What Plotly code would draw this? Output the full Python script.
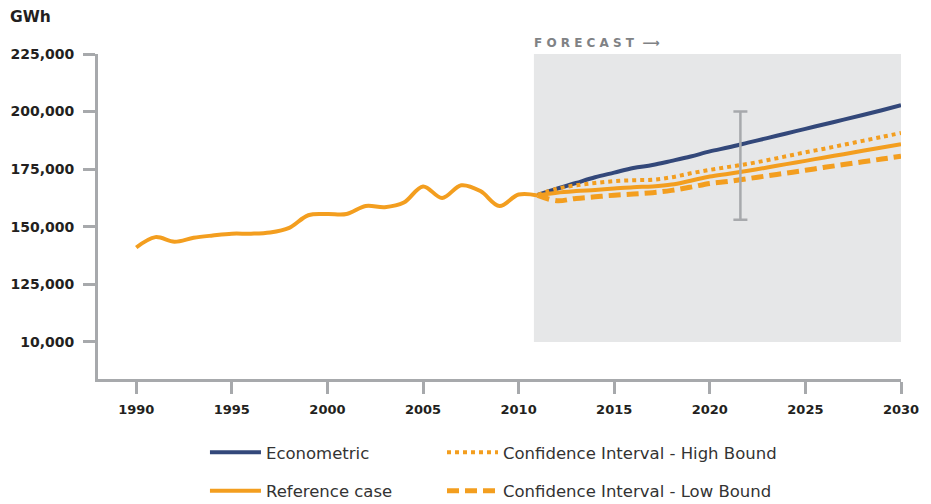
import plotly.graph_objects as go

# history (shared by both scenarios)
hist_years = list(range(1990, 2012))
hist_gwh = [141000, 145500, 143500, 145200, 146200, 147000, 147000, 147500, 149500, 155000,
            155500, 155500, 159000, 158500, 160500, 167500, 162500, 168000, 165500, 159000,
            164000, 163600]

# forecast
fc_years = list(range(2011, 2031))
econometric = [163800, 166500, 169000, 171500, 173500, 175500, 176800, 178600, 180500, 182700,
               184500, 186500, 188500, 190500, 192500, 194500, 196500, 198500, 200600, 202800]
reference = [163600, 164800, 165500, 166000, 166600, 167200, 167500, 168300, 170000, 171800,
             173000, 174300, 175700, 177200, 178600, 180100, 181500, 183000, 184400, 185800]
high_bound = [163800, 166500, 168000, 169000, 169800, 170200, 170400, 171500, 173200, 174700,
              176000, 177300, 178900, 180600, 182300, 183900, 185600, 187300, 189000, 190700]
low_bound = [163600, 161300, 162300, 163000, 163700, 164200, 164800, 165800, 167200, 168800,
             169700, 170900, 172100, 173300, 174500, 175800, 177000, 178200, 179400, 180600]

forecast_start = 2010.8
err_year = 2021.6
err_mid = 176500
err_half = 23500

y_ticks = [100000, 125000, 150000, 175000, 200000, 225000]
y_labels = ['10,000', '125,000', '150,000', '175,000', '200,000', '225,000']
x_ticks = list(range(1990, 2031, 5))

NAVY = '#33487a'
ORANGE = '#f39e1f'
GRAY = '#a7a9ac'

fig = go.Figure()

fig.add_shape(type='rect', xref='x', yref='y', x0=forecast_start, x1=2030, y0=100000, y1=225000,
              fillcolor='#e6e7e8', line_width=0, layer='below')

fig.add_trace(go.Scatter(x=hist_years, y=hist_gwh, mode='lines', showlegend=False,
                         line=dict(color=ORANGE, width=4, shape='spline')))
fig.add_trace(go.Scatter(x=fc_years, y=econometric, mode='lines', name='Econometric',
                         legend='legend', legendgroup='a',
                         line=dict(color=NAVY, width=4, shape='spline')))
fig.add_trace(go.Scatter(x=fc_years, y=reference, mode='lines', name='Reference case',
                         legend='legend', legendgroup='b',
                         line=dict(color=ORANGE, width=4, shape='spline')))
fig.add_trace(go.Scatter(x=fc_years, y=high_bound, mode='lines', name='Confidence Interval - High Bound',
                         legend='legend2', legendgroup='c',
                         line=dict(color=ORANGE, width=4, dash='dot', shape='spline')))
fig.add_trace(go.Scatter(x=fc_years, y=low_bound, mode='lines', name='Confidence Interval - Low Bound',
                         legend='legend2', legendgroup='d',
                         line=dict(color=ORANGE, width=5, dash='12px,6px', shape='spline')))
fig.add_trace(go.Scatter(x=[err_year], y=[err_mid], mode='markers', showlegend=False,
                         marker=dict(size=1, opacity=0),
                         error_y=dict(type='data', array=[err_half], color=GRAY, thickness=2.5, width=7)))

fig.add_annotation(text='GWh', xref='paper', yref='paper', x=-0.1125, y=1.114, xanchor='left',
                   yanchor='middle', showarrow=False,
                   font=dict(family='DejaVu Sans', size=15.5, color='#231f20', weight='bold'))
fig.add_annotation(text='\u00a0'.join('FORECAST') + '\u00a0\u00a0\u27f6', xref='x', yref='paper',
                   x=forecast_start, y=1.0, xanchor='left', yanchor='bottom', yshift=2, xshift=-2,
                   showarrow=False,
                   font=dict(family='DejaVu Sans', size=12, color='#808285', weight='bold'))

legend_style = dict(orientation='v', yanchor='top', y=-0.1723, itemwidth=51, tracegroupgap=14,
                    bgcolor='rgba(0,0,0,0)', font=dict(family='DejaVu Sans', size=16.5, color='#333333'))

# page body keeps an 8px margin; the figure runs past the bottom of the window on purpose
fig.update_layout(
    width=923, height=540,
    margin=dict(l=90, r=30, t=46, b=169),
    plot_bgcolor='white', paper_bgcolor='white',
    legend=dict(x=0.1332, **legend_style),
    legend2=dict(x=0.4284, **legend_style),
    xaxis=dict(range=[1988, 2030], tickvals=x_ticks, showgrid=False, zeroline=False, automargin=False,
               showline=True, linecolor=GRAY, linewidth=3, ticks='outside', ticklen=12,
               tickwidth=2.5, tickcolor=GRAY, ticklabelstandoff=4,
               tickfont=dict(family='DejaVu Sans', size=13, color='#231f20', weight='bold')),
    yaxis=dict(range=[83900, 225000], tickvals=y_ticks, ticktext=y_labels, showgrid=False,
               zeroline=False, automargin=False, showline=True, linecolor=GRAY, linewidth=3,
               ticks='outside', ticklen=12, tickwidth=2.5, tickcolor=GRAY, ticklabelstandoff=6,
               tickfont=dict(family='DejaVu Sans', size=14, color='#231f20', weight='bold')),
)

fig.write_html("out.html")
